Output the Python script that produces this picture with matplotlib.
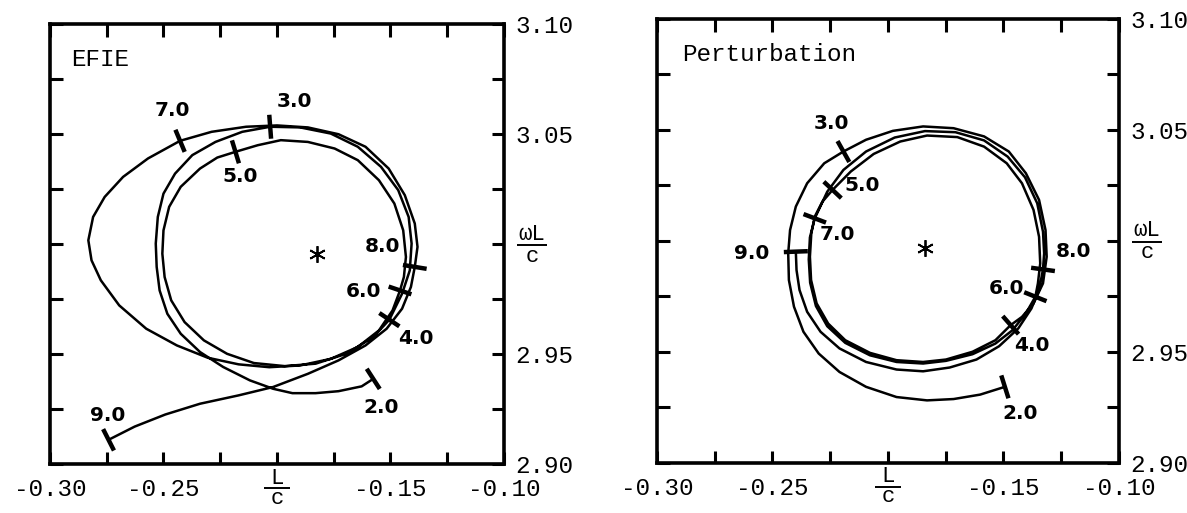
import matplotlib
matplotlib.use("Agg")
import matplotlib.pyplot as plt
from matplotlib.transforms import offset_copy
import numpy as np

# ---- EFIE locus (L/c, omega L/c) ----
efie_x = [-0.1576, -0.1627, -0.1729, -0.1830, -0.1932, -0.2017, -0.2119, -0.2237, -0.2339, -0.2424,
          -0.2483, -0.2517, -0.2530, -0.2534, -0.2525, -0.2500, -0.2449, -0.2373, -0.2271, -0.2153, -0.2030,
          -0.1898, -0.1763, -0.1644, -0.1542, -0.1466, -0.1420, -0.1407, -0.1415, -0.1449, -0.1505,
          -0.1576, -0.1695, -0.1830, -0.1966, -0.2102, -0.2220, -0.2322, -0.2407, -0.2466, -0.2495,
          -0.2505, -0.2500, -0.2475, -0.2424, -0.2339, -0.2263, -0.2183,
          -0.2085, -0.1983, -0.1864, -0.1746, -0.1644, -0.1551, -0.1483, -0.1444, -0.1432, -0.1441, -0.1458,
          -0.1491, -0.1551, -0.1644, -0.1763, -0.1898, -0.2034, -0.2169, -0.2305, -0.2441, -0.2576,
          -0.2695, -0.2776, -0.2817, -0.2831, -0.2810, -0.2759, -0.2678, -0.2568, -0.2427,
          -0.2288, -0.2136, -0.2000, -0.1864, -0.1729, -0.1610, -0.1508, -0.1437, -0.1393, -0.1381, -0.1393,
          -0.1410, -0.1449, -0.1517, -0.1610, -0.1729, -0.1864, -0.2017, -0.2169, -0.2339, -0.2492,
          -0.2627, -0.2742]
efie_y = [2.9387, 2.9353, 2.9331, 2.9322, 2.9322, 2.9342, 2.9380, 2.9441, 2.9509, 2.9592,
          2.9683, 2.9789, 2.9896, 3.0002, 3.0123, 3.0229, 3.0320, 3.0404, 3.0464, 3.0510, 3.0533,
          3.0530, 3.0502, 3.0442, 3.0351, 3.0245, 3.0123, 3.0002, 2.9880, 2.9774, 2.9656,
          2.9577, 2.9501, 2.9456, 2.9445, 2.9459, 2.9501, 2.9562, 2.9645, 2.9744, 2.9850,
          2.9956, 3.0062, 3.0169, 3.0260, 3.0343, 3.0393, 3.0419,
          3.0449, 3.0472, 3.0464, 3.0434, 3.0381, 3.0290, 3.0184, 3.0062, 2.9941, 2.9850, 2.9789,
          2.9698, 2.9607, 2.9532, 2.9478, 2.9448, 2.9440, 2.9453, 2.9483, 2.9539, 2.9615,
          2.9721, 2.9835, 2.9926, 3.0017, 3.0123, 3.0214, 3.0305, 3.0389, 3.0469,
          3.0510, 3.0533, 3.0539, 3.0530, 3.0499, 3.0442, 3.0343, 3.0222, 3.0093, 2.9987, 2.9896,
          2.9805, 2.9706, 2.9615, 2.9539, 2.9471, 2.9410, 2.9350, 2.9312, 2.9274, 2.9225,
          2.9170, 2.9110]

efie_marks = ["2.0", "3.0", "4.0", "5.0", "6.0", "7.0", "8.0", "9.0"]
efie_mark_x = [-0.1576, -0.2030, -0.1505, -0.2183, -0.1458, -0.2427, -0.1393, -0.2742]
efie_mark_y = [2.9387, 3.0533, 2.9656, 3.0419, 2.9789, 3.0469, 2.9896, 2.9110]
efie_text_x = [-0.1542, -0.1924, -0.1390, -0.2161, -0.1619, -0.2461, -0.1534, -0.2746]
efie_text_y = [2.9258, 3.0647, 2.9570, 3.0305, 2.9782, 3.0609, 2.9987, 2.9221]
efie_star = (-0.1822, 2.9956)

# ---- Perturbation locus ----
pert_x = [-0.1494, -0.1601, -0.1716, -0.1831, -0.1963, -0.2095, -0.2210, -0.2300, -0.2366, -0.2407,
          -0.2429, -0.2432, -0.2424, -0.2399, -0.2350, -0.2276, -0.2193,
          -0.2095, -0.1979, -0.1848, -0.1716, -0.1584, -0.1477, -0.1403, -0.1346, -0.1318, -0.1313,
          -0.1329, -0.1370, -0.1420, -0.1469,
          -0.1535, -0.1634, -0.1749, -0.1848, -0.1963, -0.2078, -0.2185, -0.2259, -0.2309, -0.2333,
          -0.2338, -0.2332, -0.2317, -0.2284, -0.2240,
          -0.2161, -0.2062, -0.1947, -0.1831, -0.1700, -0.1584, -0.1486, -0.1420, -0.1370, -0.1346,
          -0.1341, -0.1351, -0.1362,
          -0.1403, -0.1461, -0.1535, -0.1634, -0.1749, -0.1848, -0.1963, -0.2078, -0.2185, -0.2263,
          -0.2312, -0.2337, -0.2343, -0.2338, -0.2317,
          -0.2263, -0.2193, -0.2095, -0.1971, -0.1840, -0.1708, -0.1584, -0.1482, -0.1407, -0.1354,
          -0.1329, -0.1324, -0.1329,
          -0.1346, -0.1379, -0.1436, -0.1519, -0.1617, -0.1733, -0.1848, -0.1963, -0.2095, -0.2210,
          -0.2292, -0.2350, -0.2383, -0.2396, -0.2399]
pert_y = [2.9343, 2.9308, 2.9288, 2.9282, 2.9297, 2.9343, 2.9410, 2.9493, 2.9591, 2.9704,
          2.9824, 2.9944, 3.0049, 3.0155, 3.0260, 3.0350, 3.0403,
          3.0456, 3.0496, 3.0516, 3.0508, 3.0471, 3.0403, 3.0305, 3.0185, 3.0049, 2.9929,
          2.9809, 2.9719, 2.9658, 2.9621,
          2.9553, 2.9501, 2.9466, 2.9455, 2.9463, 2.9496, 2.9553, 2.9628, 2.9719, 2.9824,
          2.9929, 3.0034, 3.0110, 3.0177, 3.0230,
          3.0313, 3.0392, 3.0448, 3.0475, 3.0468, 3.0425, 3.0350, 3.0260, 3.0140, 3.0019,
          2.9899, 2.9809, 2.9749,
          2.9674, 2.9598, 2.9538, 2.9490, 2.9460, 2.9448, 2.9455, 2.9485, 2.9541, 2.9616,
          2.9707, 2.9812, 2.9917, 3.0016, 3.0102,
          3.0222, 3.0320, 3.0403, 3.0466, 3.0495, 3.0490, 3.0453, 3.0380, 3.0287, 3.0170,
          3.0042, 2.9944, 2.9872,
          2.9779, 2.9696, 2.9606, 2.9526, 2.9466, 2.9430, 2.9413, 2.9421, 2.9455, 2.9516,
          2.9591, 2.9681, 2.9779, 2.9869, 2.9952]

pert_marks = ["2.0", "3.0", "4.0", "5.0", "6.0", "7.0", "8.0", "9.0"]
pert_mark_x = [-0.1494, -0.2193, -0.1469, -0.2240, -0.1362, -0.2317, -0.1329, -0.2399]
pert_mark_y = [2.9343, 3.0403, 2.9621, 3.0230, 2.9749, 3.0102, 2.9872, 2.9952]
pert_text_x = [-0.1428, -0.2243, -0.1379, -0.2111, -0.1486, -0.2218, -0.1198, -0.2589]
pert_text_y = [2.9222, 3.0531, 2.9530, 3.0252, 2.9786, 3.0027, 2.9952, 2.9944]
pert_star = (-0.1840, 2.9967)

x_ticks = [-0.30, -0.275, -0.25, -0.225, -0.20, -0.175, -0.15, -0.125, -0.10]
x_labels = ['-0.30', '', '-0.25', '', '', '', '-0.15', '', '-0.10']
y_ticks = [2.90, 2.925, 2.95, 2.975, 3.00, 3.025, 3.05, 3.075, 3.10]
y_labels = ['2.90', '', '2.95', '', '', '', '3.05', '', '3.10']

MONO = ['Liberation Mono', 'DejaVu Sans Mono']
FS = 17.5


def draw_marks(ax, px, py, mx, my, length=24):
    # short bar across the curve at each labelled point
    pts = ax.transData.transform(np.column_stack([px, py]))
    px = np.asarray(px)
    py = np.asarray(py)
    for x, y in zip(mx, my):
        i = int(np.argmin(np.hypot(px - x, py - y)))
        a = pts[max(i - 1, 0)]
        b = pts[min(i + 1, len(pts) - 1)]
        d = (b - a) / np.hypot(*(b - a))
        n = np.array([-d[1], d[0]])
        c = ax.transData.transform((x, y))
        ends = ax.transData.inverted().transform([c - n * length / 2, c + n * length / 2])
        ax.plot(ends[:, 0], ends[:, 1], color='black', lw=3.2, solid_capstyle='butt')


def fraction(ax, base, x, y, num, den, dx, dy, width, gap=11, fs=16):
    # typed fraction: numerator, bar, denominator around an offset point
    t_num = offset_copy(base, fig=ax.figure, x=dx, y=dy + gap, units='dots')
    t_bar = offset_copy(base, fig=ax.figure, x=dx, y=dy, units='dots')
    t_den = offset_copy(base, fig=ax.figure, x=dx, y=dy - gap, units='dots')
    ax.text(x, y, num, transform=t_num, fontfamily=MONO, fontsize=fs,
            ha='center', va='center', clip_on=False)
    ax.plot([x], [y], marker='_', markersize=width, mew=1.4, color='black',
            transform=t_bar, clip_on=False)
    ax.text(x, y, den, transform=t_den, fontfamily=MONO, fontsize=fs,
            ha='center', va='center', clip_on=False)


def setup(ax, title, tx):
    ax.set_xlim(-0.30, -0.10)
    ax.set_ylim(2.90, 3.10)
    for s in ax.spines.values():
        s.set_linewidth(2.6)
    ax.set_xticks(x_ticks)
    ax.set_xticklabels(x_labels, fontfamily=MONO, fontsize=FS)
    ax.set_yticks(y_ticks)
    ax.set_yticklabels(y_labels, fontfamily=MONO, fontsize=FS)
    ax.tick_params(axis='both', direction='in', length=9, width=2.2,
                   top=True, bottom=True, left=True, right=True,
                   labelleft=False, labelright=True, labelbottom=True)
    ax.tick_params(axis='x', pad=10)
    ax.tick_params(axis='y', pad=8)
    ax.text(tx, 3.084, title, fontfamily=MONO, fontsize=FS, ha='left', va='center')
    fraction(ax, ax.get_xaxis_transform(), -0.20, 0.0, 'L', 'c', 0, -24, 19, gap=10)
    fraction(ax, ax.get_yaxis_transform(), 1.0, 3.00, '\u03c9L', 'c', 28, -1, 22)


fig = plt.figure(figsize=(11.87, 5.13), dpi=100)
ax1 = fig.add_axes([0.0421, 0.0955, 0.3825, 0.8577])
ax2 = fig.add_axes([0.5535, 0.0975, 0.3892, 0.8655])

panels = [
    (ax1, "EFIE", -0.2907, efie_x, efie_y, efie_marks, efie_mark_x, efie_mark_y, efie_text_x, efie_text_y, efie_star),
    (ax2, "Perturbation", -0.2893, pert_x, pert_y, pert_marks, pert_mark_x, pert_mark_y, pert_text_x, pert_text_y, pert_star),
]

for ax, title, tx, px, py, marks, mx, my, lx, ly, star in panels:
    setup(ax, title, tx)
    ax.plot(px, py, color='black', lw=1.8)
    draw_marks(ax, px, py, mx, my)
    for m, x, y in zip(marks, lx, ly):
        ax.text(x, y, m, fontsize=14.5, fontweight='bold', ha='center', va='center')
    ax.plot(star[0], star[1], marker=(6, 2, 0), color='black', markersize=12, mew=1.3)

fig.savefig("out.png", dpi=100)
